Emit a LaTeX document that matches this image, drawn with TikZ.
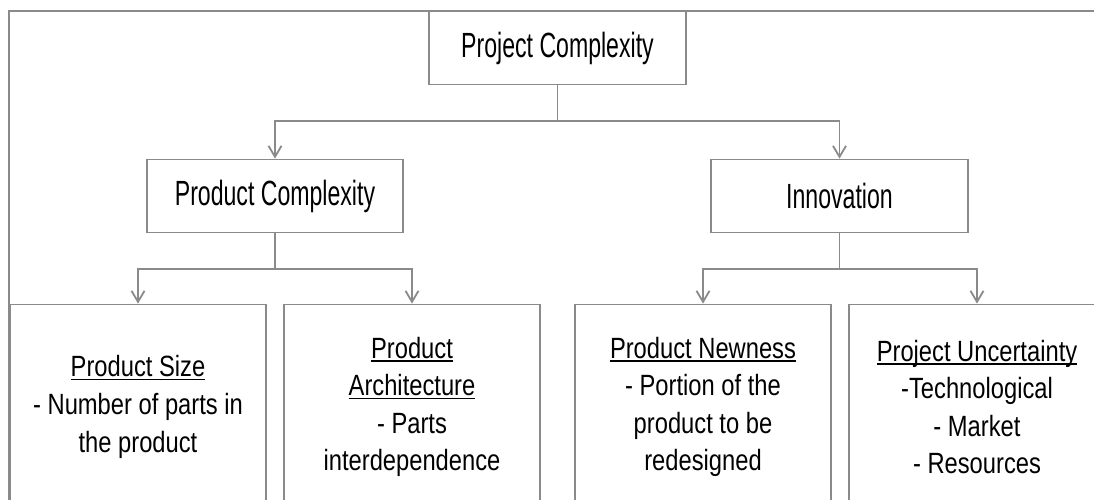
\documentclass[tikz,border=0pt]{standalone}
\usepackage{fontspec}
\usetikzlibrary{arrows.meta}
\newfontfamily\bigfont{Liberation Sans}[FakeStretch=0.66]
\newfontfamily\smallfont{Liberation Sans}[FakeStretch=0.81]
% heading with an underline at a fixed distance below the baseline
\newcommand{\uhead}[1]{\setbox0\hbox{#1}\rlap{\rule[-3.5pt]{\wd0}{1.4pt}}\box0}
\definecolor{linegray}{RGB}{138,138,138}
\begin{document}
\begin{tikzpicture}[x=1pt,y=-1pt,
  box/.style={draw=linegray,line width=1.8pt,fill=white,inner sep=0pt,align=center},
  upper/.style={box,font=\bigfont\fontsize{35}{42}\selectfont,minimum height=73pt},
  lower/.style={box,font=\smallfont\fontsize{29.3}{37.6}\selectfont,minimum width=256pt,minimum height=205pt},
  conn/.style={draw=linegray,line width=1.8pt,-{Straight Barb[length=11pt,width=13pt]}},
  link/.style={draw=linegray,line width=1.8pt}]
\clip (0,0) rectangle (1094,500);
\fill[white] (0,0) rectangle (1094,500);
% outer frame
\draw[link] (9,11) rectangle (1110,520);

% top level
\node[upper,minimum width=257pt] (proj) at (557.5,48) {Project Complexity};

% second level
\node[upper,minimum width=256pt] (prod) at (275,196) {Product Complexity};
\node[upper,minimum width=257pt] (inno) at (839.5,196) {Innovation};

% third level
\node[lower] (size) at (138,407) {\uhead{Product Size}\\- Number of parts in\\the product};
\node[lower] (arch) at (412,407) {\uhead{Product}\\\uhead{Architecture}\\- Parts\\interdependence};
\node[lower] (new)  at (703,407) {\uhead{Product Newness}\\- Portion of the\\product to be\\redesigned};
\node[lower] (unc)  at (977,407) {\uhead{Project Uncertainty}\\-Technological\\- Market\\- Resources};

% connectors
\coordinate (bus1) at (proj.south |- 0,121);
\coordinate (bus2) at (prod.south |- 0,269);
\coordinate (bus3) at (inno.south |- 0,269);
\draw[link] (proj.south) -- (bus1);
\draw[conn] (bus1) -| (prod.north);
\draw[conn] (bus1) -| (inno.north);
\draw[link] (prod.south) -- (bus2);
\draw[conn] (bus2) -| (size.north);
\draw[conn] (bus2) -| (arch.north);
\draw[link] (inno.south) -- (bus3);
\draw[conn] (bus3) -| (new.north);
\draw[conn] (bus3) -| (unc.north);
\end{tikzpicture}
\end{document}
